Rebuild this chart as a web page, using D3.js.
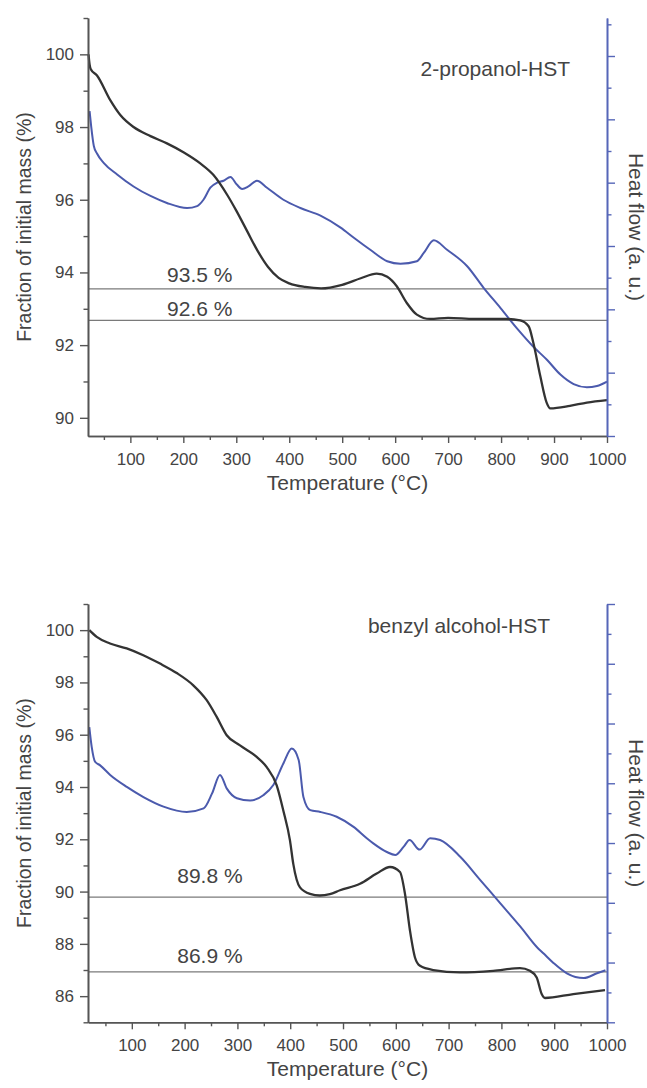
<!DOCTYPE html>
<html>
<head>
<meta charset="utf-8">
<script src="https://cdn.jsdelivr.net/npm/d3@7"></script>
<style>
  body { margin: 0; background: #fff; }
  text { font-family: "Liberation Sans", Arial, sans-serif; }
</style>
</head>
<body>
<div id="canvas"></div>
<script>

// ---- top panel: 2-propanol-HST ----
let topMassTemp = [21, 23, 25, 37, 62, 81, 106, 138, 169, 201, 232, 257, 283, 300, 320, 340, 360, 380, 400, 430, 460, 500, 535, 565, 585, 603, 622, 641, 666, 700, 750, 810, 836, 852, 861, 874, 886, 893, 930, 962, 1000]
let topMass = [100.0, 99.72, 99.6, 99.42, 98.74, 98.33, 98.0, 97.75, 97.55, 97.3, 97.0, 96.68, 96.13, 95.7, 95.15, 94.6, 94.15, 93.85, 93.7, 93.6, 93.56, 93.66, 93.84, 93.97, 93.88, 93.62, 93.16, 92.84, 92.72, 92.75, 92.72, 92.72, 92.68, 92.52, 92.06, 91.15, 90.42, 90.26, 90.33, 90.42, 90.49]
let topHeatTemp = [23, 26, 31, 37, 50, 75, 106, 138, 169, 207, 226, 238, 251, 264, 276, 289, 301, 311, 323, 339, 358, 389, 421, 459, 497, 522, 553, 585, 610, 641, 654, 673, 698, 736, 767, 799, 830, 861, 887, 912, 937, 962, 981, 1000]
let topHeat = [5.13, 4.89, 4.58, 4.46, 4.31, 4.13, 3.94, 3.79, 3.68, 3.60, 3.63, 3.73, 3.92, 4.0, 4.03, 4.09, 3.97, 3.90, 3.94, 4.03, 3.92, 3.73, 3.60, 3.48, 3.29, 3.13, 2.94, 2.76, 2.72, 2.76, 2.89, 3.09, 2.94, 2.68, 2.34, 2.02, 1.70, 1.41, 1.20, 0.97, 0.82, 0.77, 0.79, 0.86]
let topRefValues = [93.55, 92.68]
let topRefLabels = ["93.5 %", "92.6 %"]
let topRefLabelPos = [[231, 93.74], [231, 92.80]]
let topMassTicks = [90, 92, 94, 96, 98, 100]
let topMassMinor = [91, 93, 95, 97, 99, 101]

// ---- bottom panel: benzyl alcohol-HST ----
let botMassTemp = [19.5, 33.5, 58.7, 90.3, 121.7, 153.4, 185, 216.4, 241.8, 260.8, 279.7, 304.9, 336.5, 355.5, 374.4, 386.9, 399.6, 405.8, 418.5, 437.5, 456, 475, 494.3, 532.2, 563.8, 589, 607.9, 617.4, 626.8, 636.3, 645.8, 671, 721.5, 784.6, 835.2, 854.1, 866.8, 876.3, 882.5, 936.1, 996.2]
let botMass = [100.0, 99.74, 99.49, 99.3, 99.04, 98.72, 98.36, 97.89, 97.32, 96.68, 95.98, 95.59, 95.15, 94.76, 94.06, 93.1, 91.95, 91.06, 90.16, 89.91, 89.85, 89.9, 90.05, 90.3, 90.69, 90.94, 90.75, 89.91, 88.51, 87.48, 87.16, 87.0, 86.91, 86.97, 87.07, 86.97, 86.71, 86.08, 85.93, 86.08, 86.23]
let botHeatTemp = [19.5, 24, 30.5, 40, 59, 90.5, 122, 160, 204, 236, 252, 267, 280, 299, 324, 349, 368, 387, 403, 416, 425, 438, 457, 488, 520, 545, 558, 583, 599, 615, 626, 645, 665, 684, 722, 760, 798, 836, 867, 880, 899, 924, 956, 981, 997]
let botHeat = [4.94, 4.61, 4.36, 4.30, 4.14, 3.94, 3.77, 3.61, 3.52, 3.58, 3.83, 4.14, 3.91, 3.75, 3.71, 3.80, 3.97, 4.33, 4.58, 4.39, 3.77, 3.55, 3.52, 3.44, 3.27, 3.08, 2.99, 2.85, 2.80, 2.94, 3.05, 2.89, 3.08, 3.05, 2.77, 2.38, 1.99, 1.60, 1.26, 1.15, 0.99, 0.82, 0.74, 0.82, 0.87]
let botRefValues = [89.79, 86.93]
let botRefLabels = ["89.8 %", "86.9 %"]
let botRefLabelPos = [[248, 90.32], [248, 87.28]]
let botMassTicks = [86, 88, 90, 92, 94, 96, 98, 100]
let botMassMinor = [85, 87, 89, 91, 93, 95, 97, 99, 101]

let tempTicks = [100, 200, 300, 400, 500, 600, 700, 800, 900, 1000]
let tempMinor = [50, 150, 250, 350, 450, 550, 650, 750, 850, 950]

let svg = {}

window.onload = function () { setup() }

function setup() {
  svg = d3.select("#canvas")
    .append("svg")
    .attr("width", 647)
    .attr("height", 1088)

  drawPanel({
    title: "2-propanol-HST", titleX: 570, titleY: 76,
    top: 18, bottom: 436,
    tempDomain: [20, 1000], massDomain: [89.5, 101], heatDomain: [0, 6.6],
    massTemp: topMassTemp, mass: topMass,
    heatTemp: topHeatTemp, heat: topHeat,
    refValues: topRefValues, refLabels: topRefLabels, refLabelPos: topRefLabelPos,
    massTicks: topMassTicks, massMinor: topMassMinor
  })

  drawPanel({
    title: "benzyl alcohol-HST", titleX: 550, titleY: 633,
    top: 604, bottom: 1022.3,
    tempDomain: [17, 1000], massDomain: [85, 101], heatDomain: [0, 7],
    massTemp: botMassTemp, mass: botMass,
    heatTemp: botHeatTemp, heat: botHeat,
    refValues: botRefValues, refLabels: botRefLabels, refLabelPos: botRefLabelPos,
    massTicks: botMassTicks, massMinor: botMassMinor
  })
}

function styleAxis(g, color) {
  g.attr("font-family", null).attr("font-size", null)
  g.select(".domain").attr("stroke", color).attr("stroke-width", 1.6)
  g.selectAll(".tick line").attr("stroke", color).attr("stroke-width", 1.4)
  g.selectAll(".tick text").attr("fill", "#444").style("font-size", "17px")
}

function drawPanel(p) {
  let left = 88, right = 607
  let axisColor = "#555"
  let blue = "#4b5aad"

  let x = d3.scaleLinear().domain(p.tempDomain).range([left, right])
  let y = d3.scaleLinear().domain(p.massDomain).range([p.bottom, p.top])
  let h = d3.scaleLinear().domain(p.heatDomain).range([p.bottom, p.top])

  let g = svg.append("g")

  // reference lines
  g.selectAll(".ref")
    .data(p.refValues)
    .join("line")
    .attr("x1", left).attr("x2", right)
    .attr("y1", d => y(d)).attr("y2", d => y(d))
    .attr("stroke", "#7a7a7a")
    .attr("stroke-width", 1.3)

  g.selectAll(".reflabel")
    .data(p.refLabels)
    .join("text")
    .attr("x", (d, i) => x(p.refLabelPos[i][0]))
    .attr("y", (d, i) => y(p.refLabelPos[i][1]))
    .attr("text-anchor", "middle")
    .attr("fill", "#444")
    .style("font-size", "21px")
    .text(d => d)

  // heat flow curve
  let heatLine = d3.line()
    .x((d, i) => x(p.heatTemp[i]))
    .y(d => h(d))
    .curve(d3.curveMonotoneX)

  g.append("path")
    .attr("d", heatLine(p.heat))
    .attr("fill", "none")
    .attr("stroke", blue)
    .attr("stroke-width", 2)

  // mass curve
  let massLine = d3.line()
    .x((d, i) => x(p.massTemp[i]))
    .y(d => y(d))
    .curve(d3.curveMonotoneX)

  g.append("path")
    .attr("d", massLine(p.mass))
    .attr("fill", "none")
    .attr("stroke", "#333")
    .attr("stroke-width", 2.3)

  // left axis
  let ly = g.append("g").attr("transform", `translate(${left},0)`)
    .call(d3.axisLeft(y).tickValues(p.massTicks).tickSize(8).tickSizeOuter(0).tickPadding(6))
  styleAxis(ly, axisColor)
  let lyMinor = g.append("g").attr("transform", `translate(${left},0)`)
    .call(d3.axisLeft(y).tickValues(p.massMinor).tickSize(4.5).tickSizeOuter(0).tickFormat(""))
  styleAxis(lyMinor, axisColor)

  // bottom axis
  let bx = g.append("g").attr("transform", `translate(0,${p.bottom})`)
    .call(d3.axisBottom(x).tickValues(tempTicks).tickSize(7).tickSizeOuter(0).tickPadding(10).tickFormat(d3.format("d")))
  styleAxis(bx, axisColor)
  let bxMinor = g.append("g").attr("transform", `translate(0,${p.bottom})`)
    .call(d3.axisBottom(x).tickValues(tempMinor).tickSize(4).tickSizeOuter(0).tickFormat(""))
  styleAxis(bxMinor, axisColor)

  // right axis (heat flow, no labels)
  let heatMajor = d3.range(Math.ceil(p.heatDomain[0]), p.heatDomain[1] + 0.01, 1)
  let heatMinor = d3.range(0.5, p.heatDomain[1], 1)
  let ry = g.append("g").attr("transform", `translate(${right},0)`)
    .call(d3.axisRight(h).tickValues(heatMajor).tickSize(8).tickSizeOuter(0).tickFormat(""))
  styleAxis(ry, "#5666b8")
  let ryMinor = g.append("g").attr("transform", `translate(${right},0)`)
    .call(d3.axisRight(h).tickValues(heatMinor).tickSize(4.5).tickSizeOuter(0).tickFormat(""))
  styleAxis(ryMinor, "#5666b8")

  // titles
  g.append("text")
    .attr("x", p.titleX).attr("y", p.titleY)
    .attr("text-anchor", "end")
    .attr("fill", "#444")
    .style("font-size", "21px")
    .text(p.title)

  g.append("text")
    .attr("x", (left + right) / 2).attr("y", p.bottom + 54)
    .attr("text-anchor", "middle")
    .attr("fill", "#444")
    .style("font-size", "21px")
    .text("Temperature (°C)")

  let midY = (p.top + p.bottom) / 2
  g.append("text")
    .attr("transform", `translate(31,${midY}) rotate(-90)`)
    .attr("text-anchor", "middle")
    .attr("fill", "#444")
    .style("font-size", "19.5px")
    .text("Fraction of initial mass (%)")

  g.append("text")
    .attr("transform", `translate(629,${midY}) rotate(90)`)
    .attr("text-anchor", "middle")
    .attr("fill", "#444")
    .style("font-size", "21px")
    .text("Heat flow (a. u.)")
}

</script>
</body>
</html>
